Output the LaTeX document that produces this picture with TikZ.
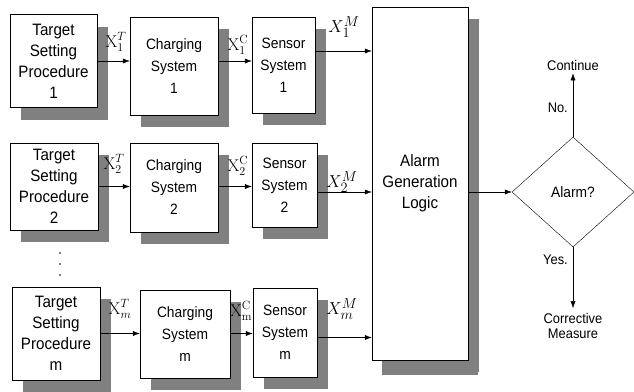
\documentclass[tikz,border=0pt]{standalone}
\usepackage{fontspec}
\newfontfamily\arialf[FakeStretch=0.92]{Liberation Sans}
\usetikzlibrary{positioning, arrows.meta, shapes.geometric, shadows}
\definecolor{ShadowGray}{RGB}{128,128,128}
\tikzset{
  blk/.style={draw, thin, fill=white, inner sep=0pt, align=center,
    drop shadow={shadow xshift=11pt, shadow yshift=-12pt, fill=ShadowGray, opacity=1}},
  tspbox/.style={blk, font=\arialf\fontsize{16.5}{21}\selectfont},
  sysbox/.style={blk, font=\arialf\fontsize{15}{22}\selectfont},
  arr/.style={-{Latex[length=7pt,width=5pt]}, thin},
  sig/.style={font=\fontsize{17}{17}\selectfont, inner sep=0pt},
  sigm/.style={font=\fontsize{19}{19}\selectfont, inner sep=0pt},
  txt/.style={font=\arialf\fontsize{14}{15}\selectfont, align=center, inner sep=0pt}
}
\begin{document}
\begin{tikzpicture}[x=1pt, y=-1pt]
\useasboundingbox (0,0) rectangle (634,391);
% chain 1
\node[tspbox, minimum width=87pt, minimum height=93pt] (tsp1) at (53.5,61) {Target\\Setting\\Procedure\\1};
\node[sysbox, minimum width=88pt, minimum height=98pt] (cs1) at (174,66) {Charging\\System\\1};
\node[sysbox, minimum width=63pt, minimum height=96pt] (ss1) at (283.5,65) {Sensor\\System\\1};
% chain 2
\node[tspbox, minimum width=88pt, minimum height=87pt] (tsp2) at (54,186.5) {Target\\Setting\\Procedure\\2};
\node[sysbox, minimum width=88pt, minimum height=89pt] (cs2) at (174,187.5) {Charging\\System\\2};
\node[sysbox, minimum width=65pt, minimum height=84pt] (ss2) at (284.5,185) {Sensor\\System\\2};
% chain m
\node[tspbox, minimum width=88pt, minimum height=93pt] (tspm) at (56,333.5) {Target\\Setting\\Procedure\\m};
\node[sysbox, minimum width=90pt, minimum height=88pt] (csm) at (185,334) {Charging\\System\\m};
\node[sysbox, minimum width=64pt, minimum height=89pt] (ssm) at (285,332.5) {Sensor\\System\\m};
\foreach \yy in {253,264,275}
  \fill (60,\yy) circle (0.9pt);
% alarm logic and decision
\node[blk, font=\arialf\fontsize{16.5}{21}\selectfont, minimum width=96pt, minimum height=353pt,
  drop shadow={shadow xshift=10pt, shadow yshift=-15pt, fill=ShadowGray, opacity=1}] (alarm) at (420,183.5)
  {Alarm\\Generation\\Logic};
\node[draw, thin, diamond, minimum width=122pt, minimum height=110pt, inner sep=0pt,
  font=\arialf\fontsize{15}{15}\selectfont] (dec) at (573,192) {Alarm?};
\node[txt] (cont) at (573,65) {Continue};
\node[txt] (corr) at (573,326) {Corrective\\Measure};
% signals
\draw[arr] (tsp1) -- (cs1.west |- tsp1);
\draw[arr] (cs1.east |- 0,61) -- (ss1.west |- 0,61);
\coordinate (o1) at ([yshift=14pt]ss1.east);
\draw[arr] (o1) -- (o1 -| alarm.west);
\draw[arr] (tsp2) -- (cs2.west |- tsp2);
\draw[arr] (cs2.east |- tsp2) -- (ss2.west |- tsp2);
\coordinate (o2) at ([yshift=-7pt]ss2.east);
\draw[arr] (o2) -- (o2 -| alarm.west);
\draw[arr] (tspm) -- (csm.west |- tspm);
\draw[arr] (csm.east |- tspm) -- (ssm.west |- tspm);
\coordinate (om) at ([yshift=-5pt]ssm.east);
\draw[arr] (om) -- (om -| alarm.west);
\draw[arr] (alarm.east |- dec) -- (dec.west);
\draw[arr] (dec.north) -- node[txt, left=5pt, pos=0.45] (no) {No.} ([yshift=-3pt]cont.south);
\draw[arr] (dec.south) -- node[txt, left=5pt, pos=0.2] (yes) {Yes.} ([yshift=5pt]corr.north);
% labels
\node[sig] (lt1) at (116,42) {$\mathrm{X}_1^{T}$};
\node[sig] (lc1) at (238,45) {$\mathrm{X}_1^{\mathrm{C}}$};
\node[sigm] (lm1) at (344,27) {$X_1^{M}$};
\node[sig] (lt2) at (114,164) {$\mathrm{X}_2^{T}$};
\node[sig] (lc2) at (238,166) {$\mathrm{X}_2^{\mathrm{C}}$};
\node[sigm] (lm2) at (342,182) {$X_2^{M}$};
\node[sig] (ltm) at (120,309) {$\mathrm{X}_m^{T}$};
\node[sig] (lcm) at (241,311) {$\mathrm{X}_{\mathrm{m}}^{\mathrm{C}}$};
\node[sigm] (lmm) at (342,309) {$X_m^{M}$};
\end{tikzpicture}
\end{document}
